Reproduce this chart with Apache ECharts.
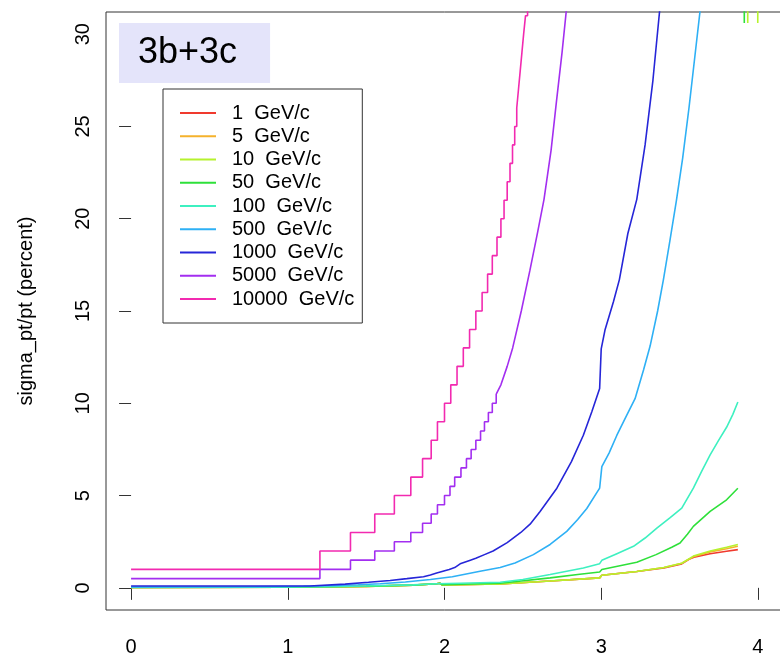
<!DOCTYPE html>
<html>
<head>
<meta charset="utf-8">
<script src="https://cdn.jsdelivr.net/npm/echarts@6/dist/echarts.min.js"></script>
<style>
html,body{margin:0;padding:0;background:#fff;overflow:hidden;}
#chart{width:790px;height:657px;}
</style>
</head>
<body>
<div id="chart"></div>
<script>
// ---- data ----
const names = ['1  GeV/c','5  GeV/c','10  GeV/c','50  GeV/c','100  GeV/c','500  GeV/c','1000  GeV/c','5000  GeV/c','10000  GeV/c'];
const colors = ['#f03a2e','#f5b22c','#b6f22e','#2ee03a','#3ef0c0','#2eb0f5','#2626d8','#a32ef0','#f22ab0'];
const xTicks = [0,1,2,3,4];
const yTicks = [0,5,10,15,20,25,30];

const pt1 = [[0,0.02],[1.0,0.04],[1.5,0.08],[1.8,0.15],[1.95,0.22],[1.97,0.25],[1.985,0.16],[2.355,0.21],[2.674,0.37],[2.99,0.54],[3.004,0.68],[3.227,0.89],[3.4,1.08],[3.514,1.3],[3.56,1.55],[3.6,1.68],[3.695,1.85],[3.8,1.98],[3.872,2.07]];
const pt5 = [[0,0.02],[1.0,0.04],[1.5,0.08],[1.8,0.15],[1.95,0.22],[1.97,0.25],[1.985,0.16],[2.355,0.21],[2.674,0.37],[2.99,0.54],[3.004,0.68],[3.227,0.89],[3.4,1.1],[3.514,1.33],[3.588,1.68],[3.695,1.95],[3.8,2.12],[3.872,2.25]];
const pt10 = [[0,0.02],[1.0,0.04],[1.5,0.08],[1.8,0.15],[1.95,0.22],[1.97,0.25],[1.985,0.16],[2.355,0.21],[2.674,0.37],[2.99,0.54],[3.004,0.68],[3.227,0.89],[3.4,1.1],[3.514,1.33],[3.588,1.72],[3.695,2.0],[3.8,2.2],[3.872,2.35],[null,null],[3.933,40],[3.935,30.6],[3.937,40],[null,null],[3.997,40],[3.999,30.6],[4.001,40]];
const pt50 = [[0,0.02],[1.0,0.04],[1.5,0.09],[1.8,0.15],[1.95,0.22],[1.97,0.25],[1.985,0.17],[2.355,0.25],[2.674,0.54],[2.85,0.72],[2.99,0.86],[3.004,0.99],[3.227,1.39],[3.35,1.8],[3.45,2.2],[3.503,2.43],[3.55,2.9],[3.588,3.33],[3.695,4.14],[3.8,4.77],[3.872,5.4],[null,null],[3.911,40],[3.913,30.6],[3.915,40]];
const pt100 = [[0,0.03],[0.8,0.04],[1.2,0.06],[1.5,0.1],[1.8,0.16],[1.95,0.22],[2.1,0.25],[2.355,0.3],[2.5,0.45],[2.674,0.72],[2.886,1.08],[2.99,1.31],[3.004,1.49],[3.1,1.85],[3.206,2.25],[3.28,2.7],[3.355,3.24],[3.44,3.8],[3.514,4.32],[3.588,5.4],[3.64,6.3],[3.695,7.2],[3.75,8.0],[3.8,8.7],[3.84,9.4],[3.872,10.07]];
const pt500 = [[0,0.05],[0.8,0.06],[1.1,0.09],[1.3,0.13],[1.45,0.17],[1.59,0.22],[1.75,0.32],[1.91,0.45],[2.05,0.6],[2.227,0.9],[2.355,1.1],[2.45,1.35],[2.567,1.8],[2.674,2.35],[2.78,3.06],[2.85,3.7],[2.908,4.3],[2.99,5.4],[3.004,6.57],[3.05,7.3],[3.1,8.27],[3.16,9.3],[3.216,10.25],[3.27,11.8],[3.312,13.1],[3.36,15.0],[3.397,16.7],[3.44,18.9],[3.48,21.0],[3.52,23.3],[3.56,26.0],[3.595,28.6],[3.63,31.2],[3.64,32]];
const pt1000 = [[0,0.1],[1.14,0.1],[1.14,0.2],[1.366,0.2],[1.366,0.3],[1.515,0.3],[1.515,0.4],[1.653,0.4],[1.653,0.5],[1.76,0.5],[1.76,0.6],[1.866,0.6],[1.866,0.7],[1.91,0.7],[1.91,0.8],[1.95,0.8],[1.95,0.9],[1.99,0.9],[1.99,1.0],[2.03,1.0],[2.03,1.1],[2.065,1.1],[2.065,1.2],[2.1,1.3],[2.165,1.5],[2.2,1.6],[2.255,1.8],[2.31,2.0],[2.4,2.45],[2.487,3.0],[2.546,3.45],[2.61,4.14],[2.717,5.4],[2.81,6.84],[2.886,8.27],[2.94,9.54],[2.99,10.8],[3.0,12.95],[3.025,14.0],[3.078,15.5],[3.116,16.7],[3.17,19.2],[3.227,21.05],[3.28,24],[3.33,27.5],[3.372,31.2],[3.38,32]];
const eta5000Step = [0,1.205,1.40,1.555,1.68,1.785,1.86,1.915,1.955,2.0,2.035,2.065,2.105,2.14,2.17,2.2,2.23,2.255,2.28,2.305,2.33];
const val5000Step = [0.5,1,1.5,2,2.5,3,3.5,4,4.5,5,5.5,6,6.5,7,7.5,8,8.5,9,9.5,10,10.5];
const pt5000Tail = [[2.33,10.5],[2.36,11],[2.40,12],[2.435,13],[2.49,15],[2.545,17.2],[2.595,19.3],[2.635,21.05],[2.68,23.7],[2.715,26.4],[2.75,29],[2.78,31.5]];
const eta10000 = [0,1.205,1.40,1.555,1.68,1.785,1.86,1.915,1.955,2.0,2.04,2.08,2.12,2.16,2.2,2.24,2.275,2.305,2.335,2.36,2.38,2.40,2.418,2.434,2.448,2.461,2.472,2.483,2.494,2.505,2.517,2.53];
const val10000 = [1,2,3,4,5,6,7,8,9,10,11,12,13,14,15,16,17,18,19,20,21,22,23,24,25,26,27,28,29,30,31,32];

// ---- build ----
const zip = (xs, ys) => xs.map((x, i) => [x, ys[i]]);
const lines = [pt1, pt5, pt10, pt50, pt100, pt500, pt1000];
const series = lines.map((d, i) => ({
  name: names[i], type: 'line', data: d, symbol: 'none', connectNulls: false,
  lineStyle: { color: colors[i], width: 1.6 }, itemStyle: { color: colors[i] }
}));
series.push({ name: names[7], type: 'line', data: zip(eta5000Step, val5000Step), step: 'end', symbol: 'none',
  lineStyle: { color: colors[7], width: 1.6 }, itemStyle: { color: colors[7] } });
series.push({ name: names[7], type: 'line', data: pt5000Tail, symbol: 'none',
  lineStyle: { color: colors[7], width: 1.6 }, itemStyle: { color: colors[7] } });
series.push({ name: names[8], type: 'line', data: zip(eta10000, val10000), step: 'end', symbol: 'none',
  lineStyle: { color: colors[8], width: 1.6 }, itemStyle: { color: colors[8] } });

const font = "'Liberation Sans', Arial, Helvetica, sans-serif";
const chart = echarts.init(document.getElementById('chart'), null, { renderer: 'canvas' });
chart.setOption({
  animation: false,
  backgroundColor: '#fff',
  textStyle: { fontFamily: font },
  title: {
    text: '3b+3c', left: 119, top: 23, padding: [12, 33, 12, 19],
    backgroundColor: '#e4e4fa',
    textStyle: { fontFamily: font, fontSize: 36, fontWeight: 'normal', color: '#000' }
  },
  legend: {
    data: names, orient: 'vertical', left: 163, top: 89,
    padding: [14, 8, 14, 17], itemGap: 3.25, itemWidth: 36, itemHeight: 2, icon: 'rect',
    borderColor: '#333', borderWidth: 1, backgroundColor: '#fff',
    textStyle: { fontFamily: font, fontSize: 20, color: '#000', padding: [0, 0, 0, 11] }
  },
  grid: { left: 106, top: 12, right: 7, bottom: 45, show: true, borderColor: '#333', borderWidth: 1, containLabel: false },
  xAxis: {
    type: 'value', min: -0.16, max: 4.16,
    axisLine: { show: false },
    splitLine: { show: false },
    axisTick: { show: true, length: 12, lineStyle: { color: '#333' }, customValues: xTicks },
    axisLabel: { show: true, customValues: xTicks, fontSize: 20, color: '#000', margin: 27, fontFamily: font }
  },
  yAxis: {
    type: 'value', min: -1.2, max: 31.2,
    name: 'sigma_pt/pt (percent)', nameLocation: 'middle', nameRotate: 90, nameGap: 70,
    nameTextStyle: { fontFamily: font, fontSize: 20, color: '#000' },
    axisLine: { show: false },
    splitLine: { show: false },
    axisTick: { show: true, length: 12, lineStyle: { color: '#333' }, customValues: yTicks },
    axisLabel: { show: true, customValues: yTicks, rotate: 90, fontSize: 20, color: '#000', margin: 13, fontFamily: font }
  },
  series: series
});
</script>
</body>
</html>
